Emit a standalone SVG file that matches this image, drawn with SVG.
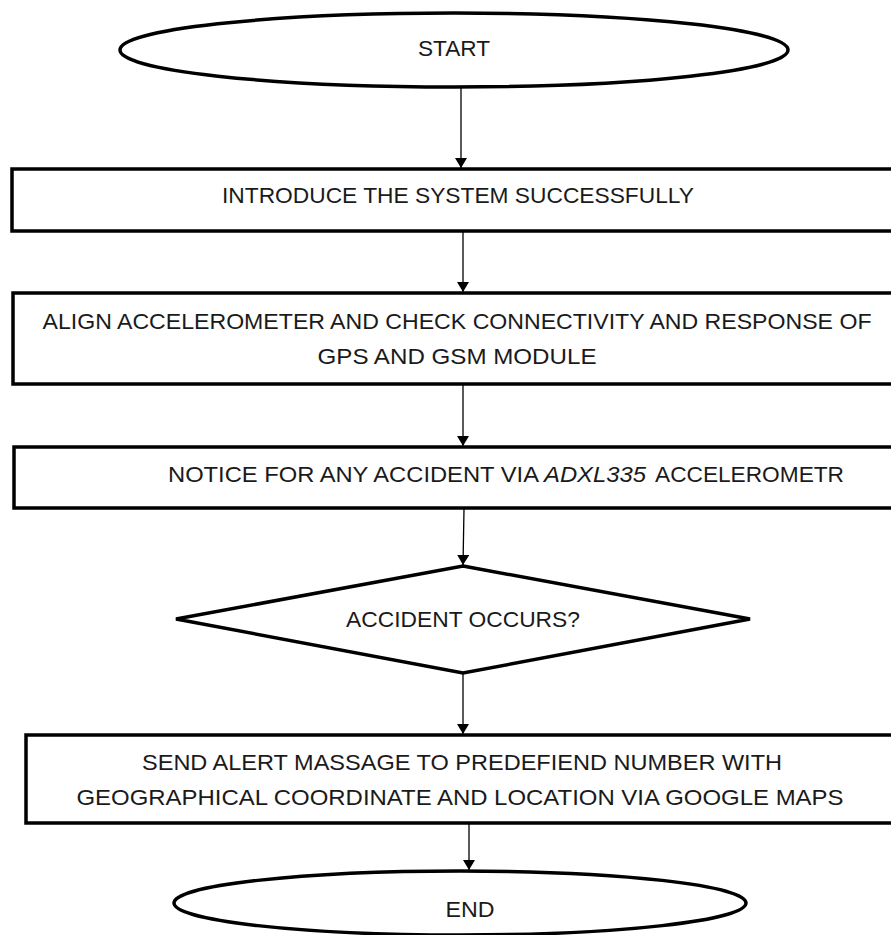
<svg xmlns="http://www.w3.org/2000/svg" width="891" height="935" viewBox="0 0 891 935">
<defs>
<style>
.shape{fill:#fff;stroke:#000;stroke-width:3.5}
.t{font-family:"Liberation Sans",Arial,sans-serif;font-size:22px;fill:#1a1a1a;text-anchor:middle}
.c{stroke:#000;stroke-width:1.3;fill:none;marker-end:url(#ah)}
</style>
<marker id="ah" viewBox="0 0 10 12" refX="10" refY="6" markerWidth="10" markerHeight="12" markerUnits="userSpaceOnUse" orient="auto">
<path d="M0,0 L10,6 L0,12 Z" fill="#000"/>
</marker>
</defs>
<rect width="891" height="935" fill="#fff"/>
<g id="start">
<ellipse class="shape" cx="454" cy="50" rx="334" ry="37"/>
<text class="t" x="454" y="56" textLength="72" lengthAdjust="spacingAndGlyphs">START</text>
</g>
<g id="introduce">
<rect class="shape" x="12" y="169" width="900" height="62"/>
<text class="t" x="458" y="203" textLength="472" lengthAdjust="spacingAndGlyphs">INTRODUCE THE SYSTEM SUCCESSFULLY</text>
</g>
<g id="align">
<rect class="shape" x="13" y="293" width="900" height="91"/>
<text class="t" x="457" y="329" textLength="829" lengthAdjust="spacingAndGlyphs">ALIGN ACCELEROMETER AND CHECK CONNECTIVITY AND RESPONSE OF</text>
<text class="t" x="457" y="364" textLength="279" lengthAdjust="spacingAndGlyphs">GPS AND GSM MODULE</text>
</g>
<g id="notice">
<rect class="shape" x="14" y="447" width="900" height="61"/>
<text class="t" x="168" y="482" style="text-anchor:start"><tspan textLength="371" lengthAdjust="spacingAndGlyphs">NOTICE FOR ANY ACCIDENT VIA</tspan><tspan x="544" font-style="italic" textLength="102" lengthAdjust="spacingAndGlyphs">ADXL335</tspan><tspan x="655" textLength="189" lengthAdjust="spacingAndGlyphs">ACCELEROMETR</tspan></text>
</g>
<g id="decision">
<polygon class="shape" points="463,566 750,619 463,673 176,619"/>
<text class="t" x="463" y="627" textLength="234" lengthAdjust="spacingAndGlyphs">ACCIDENT OCCURS?</text>
</g>
<g id="send">
<rect class="shape" x="26" y="735" width="900" height="88"/>
<text class="t" x="462" y="770" textLength="640" lengthAdjust="spacingAndGlyphs">SEND ALERT MASSAGE TO PREDEFIEND NUMBER WITH</text>
<text class="t" x="460" y="805" textLength="767" lengthAdjust="spacingAndGlyphs">GEOGRAPHICAL COORDINATE AND LOCATION VIA GOOGLE MAPS</text>
</g>
<g id="end">
<ellipse class="shape" cx="460" cy="903" rx="286" ry="32"/>
<text class="t" x="470" y="917" textLength="49" lengthAdjust="spacingAndGlyphs">END</text>
</g>
<g id="connectors">
<line class="c" x1="461" y1="88" x2="461" y2="168"/>
<line class="c" x1="463" y1="232" x2="463" y2="292"/>
<line class="c" x1="463" y1="385" x2="463" y2="446"/>
<line class="c" x1="464" y1="509" x2="463" y2="565"/>
<line class="c" x1="463" y1="674" x2="463" y2="734"/>
<line class="c" x1="469" y1="824" x2="469" y2="870"/>
</g>
</svg>
